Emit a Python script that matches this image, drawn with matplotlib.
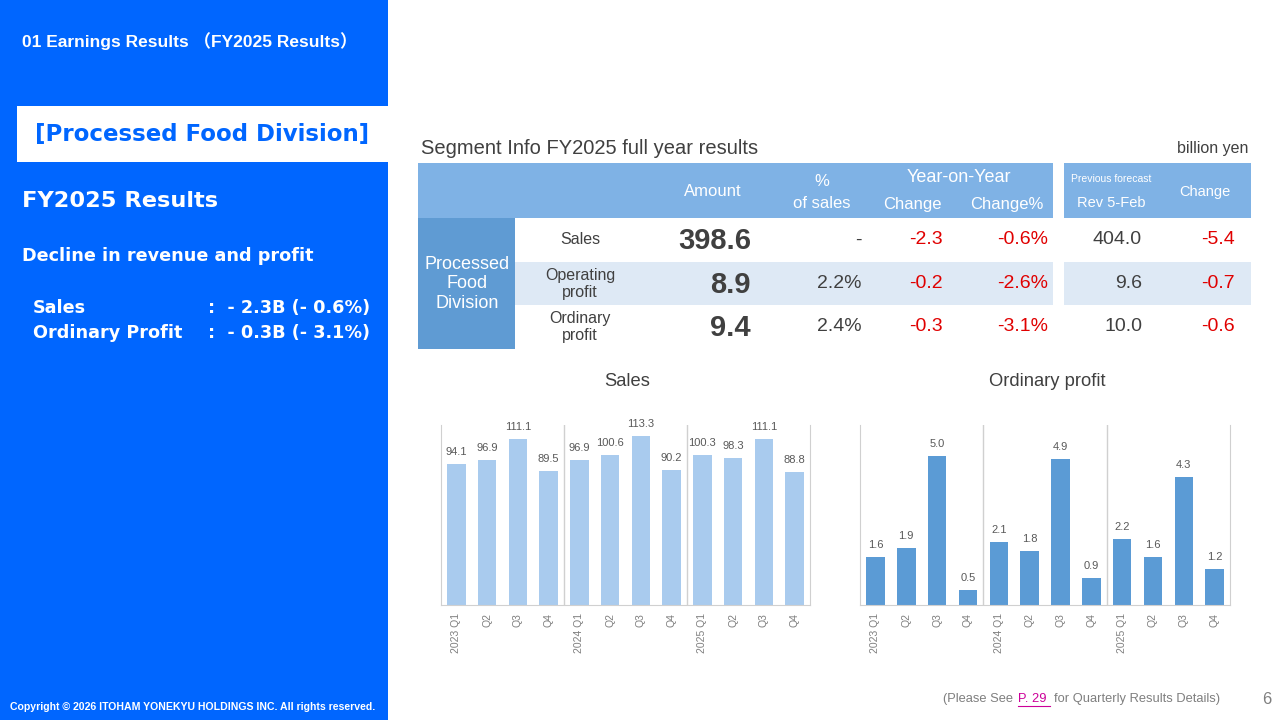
import numpy as np
import matplotlib.pyplot as plt
from matplotlib.patches import Rectangle

plt.rcParams['font.family'] = ['Liberation Sans', 'DejaVu Sans']

# data
quarters = ['2023 Q1', 'Q2', 'Q3', 'Q4', '2024 Q1', 'Q2', 'Q3', 'Q4', '2025 Q1', 'Q2', 'Q3', 'Q4']
sales = [94.1, 96.9, 111.1, 89.5, 96.9, 100.6, 113.3, 90.2, 100.3, 98.3, 111.1, 88.8]
ord_profit = [1.6, 1.9, 5.0, 0.5, 2.1, 1.8, 4.9, 0.9, 2.2, 1.6, 4.3, 1.2]

row_labels = ['Sales', 'Operating\nprofit', 'Ordinary\nprofit']
amounts = ['398.6', '8.9', '9.4']
pct_sales = ['-', '2.2%', '2.4%']
yoy_change = ['-2.3', '-0.2', '-0.3']
yoy_pct = ['-0.6%', '-2.6%', '-3.1%']
forecast = ['404.0', '9.6', '10.0']
fc_change = ['-5.4', '-0.7', '-0.6']

W, H = 1280, 720
BLUE = '#0066FF'
HEAD = '#7FB2E5'
SIDE = '#5F9BD3'
LIGHT = '#DEE9F5'
RED = '#E00000'
DARK = '#404040'
WIDE = ['DejaVu Sans']

fig = plt.figure(figsize=(12.8, 7.2), dpi=100)


def fx(x):
    return x / W


def fy(y):
    return 1 - y / H


def rect(x0, y0, x1, y1, color):
    fig.patches.append(Rectangle((fx(x0), fy(y1)), (x1 - x0) / W, (y1 - y0) / H,
                                 transform=fig.transFigure, color=color, lw=0, zorder=0))


def txt(x, y, s, **kw):
    kw.setdefault('va', 'center')
    fig.text(fx(x), fy(y), s, **kw)


# left panel
rect(0, 0, 388, 720, BLUE)
rect(17, 106, 388, 162, 'white')
txt(22, 41, '01 Earnings Results \uff08FY2025 Results\uff09', color='white', fontsize=12.5,
    fontweight='bold', family=['Liberation Sans', 'Noto Sans CJK JP'])
txt(35, 134, '[Processed Food Division]', color=BLUE, fontsize=16.5, fontweight='bold', family=WIDE)
txt(22, 201, 'FY2025 Results', color='white', fontsize=16.2, fontweight='bold', family=WIDE)
txt(22, 256, 'Decline in revenue and profit', color='white', fontsize=12.7, fontweight='bold', family=WIDE)
txt(33, 308, 'Sales', color='white', fontsize=12.7, fontweight='bold', family=WIDE)
txt(33, 333, 'Ordinary Profit', color='white', fontsize=12.7, fontweight='bold', family=WIDE)
txt(208, 308, ':  - 2.3B (- 0.6%)', color='white', fontsize=12.7, fontweight='bold', family=WIDE)
txt(208, 333, ':  - 0.3B (- 3.1%)', color='white', fontsize=12.7, fontweight='bold', family=WIDE)
txt(10, 707, 'Copyright \u00a9 2026 ITOHAM YONEKYU HOLDINGS INC. All rights reserved.',
    color='white', fontsize=7.6, fontweight='bold')

# table
txt(421, 148, 'Segment Info FY2025 full year results', color=DARK, fontsize=14.5)
txt(1248, 148, 'billion yen', color=DARK, fontsize=11.5, ha='right')
rect(418, 163, 1053, 218, HEAD)
rect(1064, 163, 1251, 218, HEAD)
rect(418, 218, 515, 349, SIDE)
rect(515, 262, 1053, 305, LIGHT)
rect(1064, 262, 1251, 305, LIGHT)

hk = dict(color='white', ha='center')
txt(713, 192, 'Amount', fontsize=12, **hk)
txt(822, 181, '%', fontsize=12, **hk)
txt(822, 204, 'of sales', fontsize=12, **hk)
txt(959, 178, 'Year-on-Year', fontsize=13, **hk)
txt(912, 205, 'Change', fontsize=12, **hk)
txt(1007, 205, 'Change%', fontsize=12, **hk)
txt(1111, 179, 'Previous forecast', fontsize=7.5, **hk)
txt(1111, 203, 'Rev 5-Feb', fontsize=10.5, **hk)
txt(1205, 192, 'Change', fontsize=10.5, **hk)
txt(467, 284, 'Processed\nFood\nDivision', color='white', ha='center', fontsize=13,
    linespacing=1.2)

row_y = [240, 284, 327]
for i, y in enumerate(row_y):
    txt(580, y, row_labels[i], color=DARK, ha='center', fontsize=11.5, linespacing=1.15)
    txt(751, y + 1, amounts[i], color=DARK, ha='right', fontsize=21, fontweight='bold')
    txt(862, y, pct_sales[i], color=DARK, ha='right', fontsize=14)
    txt(943, y, yoy_change[i], color=RED, ha='right', fontsize=14)
    txt(1048, y, yoy_pct[i], color=RED, ha='right', fontsize=14)
    txt(1142, y, forecast[i], color=DARK, ha='right', fontsize=14)
    txt(1235, y, fc_change[i], color=RED, ha='right', fontsize=14)


# bar charts
def bar_chart(left, right, values, color, ymax, title):
    ax = fig.add_axes([fx(left), fy(605), (right - left) / W, (605 - 425) / H])
    x = np.arange(len(values))
    ax.bar(x, values, width=0.6, color=color, zorder=2)
    for xi, v in zip(x, values):
        ax.annotate(f'{v:.1f}', (xi, v), xytext=(0, 5), textcoords='offset points',
                    ha='center', va='bottom', fontsize=8, color='#595959')
    ax.set_xlim(-0.5, len(values) - 0.5)
    ax.set_ylim(0, ymax)
    ax.set_yticks([])
    ax.set_xticks(x)
    ax.set_xticklabels(quarters, rotation=90, fontsize=7.5, color='#7F7F7F')
    ax.tick_params(axis='x', length=0, pad=6)
    ax.spines['top'].set_visible(False)
    for s in ['left', 'right', 'bottom']:
        ax.spines[s].set_color('#D0D0D0')
    for b in [3.5, 7.5]:
        ax.axvline(b, color='#D0D0D0', lw=1, zorder=1)
    txt((left + right) / 2 + 2, 381, title, color=DARK, fontsize=13.2, ha='center')
    return ax


bar_chart(441, 810, sales, '#A9CBEE', 120.5, 'Sales')
bar_chart(860, 1230, ord_profit, '#5B9BD5', 6.04, 'Ordinary profit')

# footer
fk = dict(fontsize=9.3, color='#7F7F7F')
txt(943, 699, '(Please See ', **fk)
txt(1018, 699, 'P. 29', fontsize=9.3, color='#CC0099')
fig.lines.append(plt.Line2D([fx(1018), fx(1050)], [fy(706), fy(706)], transform=fig.transFigure,
                            color='#CC0099', lw=0.8))
txt(1054, 699, 'for Quarterly Results Details)', **fk)
txt(1262, 699, '6', fontsize=12, color='#7F7F7F')

fig.savefig('out.png', dpi=100)
